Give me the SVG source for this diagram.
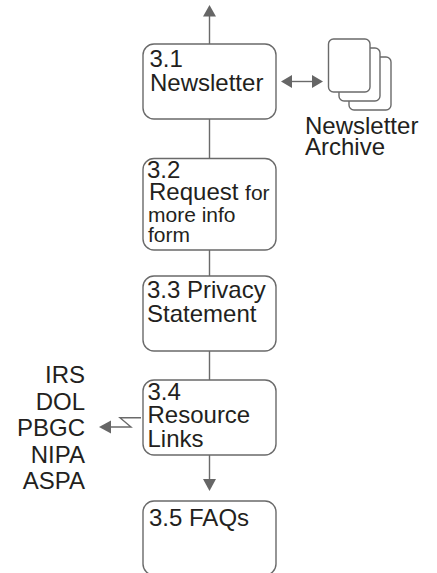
<svg xmlns="http://www.w3.org/2000/svg" width="437" height="573" viewBox="0 0 437 573">
<style>
.b{fill:#fff;stroke:#6a6a6a;stroke-width:1.4}
.c{fill:none;stroke:#6a6a6a;stroke-width:1.4}
.a{fill:#666;stroke:none}
text{font-family:"Liberation Sans",Arial,sans-serif;font-size:24px;fill:#231f20}
.s{font-size:21px}
.e{text-anchor:end}
</style>
<rect width="437" height="573" fill="#fff"/>
<g id="connectors">
<path class="c" d="M209.5 44V14M209.5 119V158M209.5 250V276M209.5 351V380M209.5 455V481"/>
<path class="a" d="M209.5 5L216 16.500H203Z"/>
<path class="a" d="M209.500 491L203 479H216Z"/>
<path class="c" d="M290 81.500H314"/>
<path class="a" d="M281 81.500L292 75V88Z"/>
<path class="a" d="M323 81.500L312 75V88Z"/>
<path class="c" d="M141 417.700H120L131 427H109"/>
<path class="a" d="M99 427L111 420.500V433.500Z"/>
</g>
<g id="node-3-1">
<rect class="b" x="143" y="44" width="133" height="75" rx="11"/>
<text x="149.500" y="66.700">3.1</text>
<text x="150" y="91">Newsletter</text>
</g>
<g id="node-archive">
<rect class="b" x="349" y="57" width="42" height="53" rx="5"/>
<rect class="b" x="339" y="48" width="41" height="53" rx="5"/>
<rect class="b" x="328.500" y="39" width="41.500" height="53" rx="5"/>
<text x="305" y="134">Newsletter</text>
<text x="305" y="155">Archive</text>
</g>
<g id="node-3-2">
<rect class="b" x="143" y="158.500" width="133" height="91.500" rx="11"/>
<text x="147" y="178">3.2</text>
<text x="149" y="200">Request <tspan class="s">for</tspan></text>
<text class="s" x="148" y="221.700">more info</text>
<text class="s" x="148" y="242">form</text>
</g>
<g id="node-3-3">
<rect class="b" x="143" y="276" width="133" height="75" rx="11"/>
<text x="147" y="298">3.3 Privacy</text>
<text x="147" y="322">Statement</text>
</g>
<g id="node-3-4">
<rect class="b" x="143" y="380" width="133" height="75" rx="11"/>
<text x="147.500" y="400">3.4</text>
<text x="147.500" y="423">Resource</text>
<text x="147.500" y="447">Links</text>
</g>
<g id="node-3-5">
<rect class="b" x="143" y="501" width="133" height="74" rx="11"/>
<text x="149" y="525.700">3.5 FAQs</text>
</g>
<g id="node-links">
<text class="e" x="85" y="383">IRS</text>
<text class="e" x="85" y="410">DOL</text>
<text class="e" x="85" y="436">PBGC</text>
<text class="e" x="85" y="463">NIPA</text>
<text class="e" x="85" y="489">ASPA</text>
</g>
</svg>
